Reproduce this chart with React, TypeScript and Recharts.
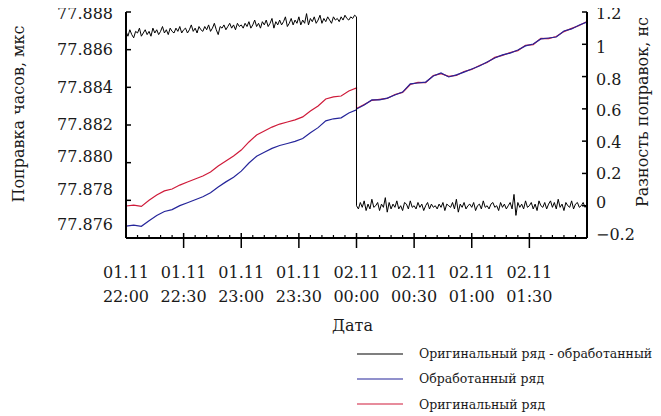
import React from 'react';
import { LineChart, Line, XAxis, YAxis, Legend, Label } from 'recharts';

// Time is in minutes since 01.11 22:00
const axisTicks = [0, 6, 12, 18, 24, 30, 36, 42, 48, 54, 60, 66, 72, 78, 84, 90, 96, 102, 108, 114, 120, 126, 132, 138, 144, 150, 156, 162, 168, 174, 180, 186, 192, 198, 204, 210, 216, 222, 228, 234, 240];
const labelMinutes = [0, 30, 60, 90, 120, 150, 180, 210];
const labelDates = ['01.11', '01.11', '01.11', '01.11', '02.11', '02.11', '02.11', '02.11'];
const labelTimes = ['22:00', '22:30', '23:00', '23:30', '00:00', '00:30', '01:00', '01:30'];

const leftTicks = [77.876, 77.878, 77.88, 77.882, 77.884, 77.886, 77.888];
const rightTicks = [-0.2, 0, 0.2, 0.4, 0.6, 0.8, 1.0, 1.2];
const rightTickLabels = ['\u22120.2', '0', '0.2', '0.4', '0.6', '0.8', '1', '1.2'];

// Original series (mks), every 4 minutes, before and after 00:00
const redBefore = [77.8777, 77.87775, 77.87768, 77.878, 77.87828, 77.8785, 77.8786, 77.87881, 77.87897, 77.87913, 77.87929, 77.8795, 77.87982, 77.88009, 77.88035, 77.88067, 77.8811, 77.88147, 77.88168, 77.88189, 77.88205, 77.88216, 77.88227, 77.88243, 77.88274, 77.88301, 77.88338, 77.88349, 77.88354, 77.88381, 77.88397];
const redAfter = [77.88287, 77.88309, 77.88331, 77.88336, 77.88341, 77.88362, 77.88373, 77.88415, 77.88426, 77.88425, 77.88462, 77.88473, 77.88458, 77.88463, 77.88484, 77.88495, 77.88516, 77.88532, 77.88559, 77.8857, 77.88585, 77.88595, 77.88623, 77.88627, 77.8866, 77.88659, 77.8867, 77.88696, 77.88713, 77.88728, 77.8875];
// Processed series (mks)
const blueBefore = [77.87663, 77.87668, 77.87662, 77.87692, 77.8772, 77.87741, 77.87751, 77.87772, 77.87787, 77.87803, 77.87819, 77.8784, 77.87871, 77.87898, 77.87923, 77.87955, 77.87998, 77.88034, 77.88055, 77.88076, 77.88091, 77.88102, 77.88113, 77.88128, 77.88159, 77.88186, 77.88222, 77.88233, 77.88238, 77.88264, 77.8828];
const blueAfter = [77.88285, 77.88306, 77.88333, 77.88333, 77.88343, 77.88359, 77.88375, 77.88418, 77.88423, 77.88428, 77.8846, 77.88476, 77.88455, 77.88466, 77.88481, 77.88497, 77.88513, 77.88535, 77.88556, 77.88572, 77.88582, 77.88598, 77.8862, 77.8863, 77.88657, 77.88662, 77.88667, 77.88699, 77.8871, 77.88731, 77.88747];

// Difference original - processed (ns), every minute
const diffBefore = [
  1.08, 1.05, 1.09, 1.06, 1.04, 1.08, 1.07, 1.10, 1.05, 1.07,
  1.09, 1.06, 1.08, 1.05, 1.10, 1.07, 1.09, 1.06, 1.08, 1.11,
  1.07, 1.09, 1.06, 1.10, 1.08, 1.07, 1.10, 1.08, 1.11, 1.07,
  1.09, 1.10, 1.07, 1.09, 1.12, 1.08, 1.10, 1.07, 1.11, 1.09,
  1.08, 1.11, 1.09, 1.12, 1.08, 1.10, 1.13, 1.09, 1.06, 1.11,
  1.10, 1.12, 1.09, 1.11, 1.13, 1.10, 1.12, 1.09, 1.13, 1.11,
  1.12, 1.10, 1.13, 1.11, 1.14, 1.10, 1.12, 1.15, 1.11, 1.13,
  1.10, 1.14, 1.12, 1.15, 1.11, 1.13, 1.16, 1.10, 1.14, 1.12,
  1.15, 1.12, 1.14, 1.17, 1.11, 1.13, 1.16, 1.12, 1.15, 1.13,
  1.17, 1.12, 1.15, 1.13, 1.19, 1.12, 1.16, 1.14, 1.17, 1.13,
  1.15, 1.18, 1.13, 1.16, 1.14, 1.17, 1.15, 1.13, 1.17, 1.15,
  1.16, 1.14, 1.17, 1.15, 1.18, 1.16, 1.15, 1.17, 1.16, 1.18, 1.17,
];
const diffAfter = [
  0.00,
  -0.02, 0.02, -0.01, 0.03, -0.03, 0.01, -0.02, 0.04, -0.01, 0.00,
  0.02, -0.03, 0.01, -0.01, 0.05, -0.04, 0.02, -0.02, 0.01, -0.01,
  0.03, -0.02, 0.00, -0.03, 0.02, 0.01, -0.02, 0.03, -0.01, 0.00,
  -0.02, 0.02, -0.01, 0.01, -0.03, 0.00, 0.02, -0.02, 0.01, -0.01,
  0.00, -0.02, 0.01, -0.01, 0.02, -0.03, 0.01, 0.00, -0.01, 0.02,
  -0.02, 0.04, -0.04, 0.01, -0.01, 0.02, -0.02, 0.00, 0.01, -0.01,
  0.02, -0.03, 0.00, 0.01, -0.02, 0.03, -0.01, 0.00, -0.02, 0.01,
  0.02, -0.01, 0.00, -0.03, 0.02, -0.01, 0.01, -0.02, 0.00, 0.02,
  -0.02, 0.07, -0.06, 0.02, -0.01, 0.01, -0.02, 0.03, -0.01, 0.00,
  0.02, -0.02, 0.01, -0.03, 0.03, 0.00, -0.01, 0.02, -0.02, 0.01,
  0.03, -0.01, 0.02, -0.02, 0.04, -0.01, 0.01, -0.03, 0.02, 0.00,
  -0.01, 0.03, -0.02, 0.01, 0.02, -0.01, 0.00, 0.02, -0.01, 0.01,
];

const seriesNames = ['Оригинальный ряд - обработанный', 'Обработанный ряд', 'Оригинальный ряд'];
const seriesColors = ['#000000', '#25259a', '#cf1b3a'];

const splitStep = 4;
const splitAt = 120;
const build = (before: number[], after: number[], step: number) => [
  ...before.map((v, i) => ({ t: i * step, v })),
  ...after.map((v, i) => ({ t: splitAt + i * step, v })),
];
const redData = build(redBefore, redAfter, splitStep);
const blueData = build(blueBefore, blueAfter, splitStep);
const diffData = build(diffBefore, diffAfter, 1);

const FONT = 'DejaVu Serif';
const TEXT = '#1a1a1a';

// small vertical label nudges (style), matching the typeset original
const leftLabelNudge = [-14, -11, -6, -1, 0, 0, 1];
const rightLabelNudge = [-4, -3, 0, 1, 1, 3, 3, 1];

const BottomTick = (props: any) => {
  const { x, y, payload } = props;
  const v = payload.value;
  const idx = labelMinutes.indexOf(v);
  const isMajor = v % 30 === 0 && v !== 0 && v !== 240;
  return (
    <g>
      {isMajor ? (
        <line x1={x} x2={x} y1={y - 5} y2={y + 10} stroke="#000" strokeWidth={1.5} />
      ) : (
        <line x1={x} x2={x} y1={y - 3} y2={y} stroke="#000" strokeWidth={1.2} />
      )}
      {idx >= 0 && (
        <text x={x} y={y + 40} textAnchor="middle" fontSize={16} fontFamily={FONT} fill={TEXT}>
          {labelDates[idx]}
        </text>
      )}
      {idx >= 0 && (
        <text x={x} y={y + 64} textAnchor="middle" fontSize={16} fontFamily={FONT} fill={TEXT}>
          {labelTimes[idx]}
        </text>
      )}
    </g>
  );
};

const TopTick = (props: any) => {
  const { x, y } = props;
  return <line x1={x} x2={x} y1={y} y2={y + 3} stroke="#000" strokeWidth={1.2} />;
};

const LeftTick = (props: any) => {
  const { x, y, payload } = props;
  const idx = leftTicks.findIndex((t) => Math.abs(t - payload.value) < 1e-9);
  const nudge = idx >= 0 ? leftLabelNudge[idx] : 0;
  return (
    <g>
      <line x1={x} x2={x + 5} y1={y} y2={y} stroke="#000" strokeWidth={1.5} />
      <text x={x - 13} y={y + nudge} dy="0.36em" textAnchor="end" fontSize={16} fontFamily={FONT} fill={TEXT}>
        {Number(payload.value).toFixed(3)}
      </text>
    </g>
  );
};

const MirrorTick = (props: any) => {
  const { x, y } = props;
  return <line x1={x} x2={x - 5} y1={y} y2={y} stroke="#000" strokeWidth={1.5} />;
};

const RightTick = (props: any) => {
  const { x, y, payload } = props;
  const idx = rightTicks.findIndex((t) => Math.abs(t - payload.value) < 1e-9);
  const nudge = idx >= 0 ? rightLabelNudge[idx] : 0;
  return (
    <g>
      <line x1={x} x2={x - 5} y1={y} y2={y} stroke="#000" strokeWidth={1.5} />
      <text x={x + 9} y={y + nudge} dy="0.36em" textAnchor="start" fontSize={16} fontFamily={FONT} fill={TEXT}>
        {idx >= 0 ? rightTickLabels[idx] : ''}
      </text>
    </g>
  );
};

const LeftTitle = (props: any) => {
  const vb = props.viewBox || { x: 0, y: 12, width: 126, height: 226 };
  const cx = vb.x + 18;
  const cy = vb.y + vb.height / 2 - 11;
  return (
    <text x={cx} y={cy} transform={`rotate(-90 ${cx} ${cy})`} textAnchor="middle" dominantBaseline="central" fontSize={16} fontFamily={FONT} fill={TEXT}>
      Поправка часов, мкс
    </text>
  );
};

const RightTitle = (props: any) => {
  const vb = props.viewBox || { x: 587, y: 12, width: 74, height: 226 };
  const cx = vb.x + 55;
  const cy = vb.y + vb.height / 2 - 13;
  return (
    <text x={cx} y={cy} transform={`rotate(-90 ${cx} ${cy})`} textAnchor="middle" dominantBaseline="central" fontSize={16} fontFamily={FONT} fill={TEXT}>
      Разность поправок, нс
    </text>
  );
};

const BottomTitle = (props: any) => {
  const vb = props.viewBox || { x: 126, y: 238, width: 461, height: 178 };
  return (
    <text x={vb.x + vb.width / 2 - 4} y={vb.y + 93} textAnchor="middle" fontSize={16} fontFamily={FONT} fill={TEXT}>
      Дата
    </text>
  );
};

const LegendBox = () => (
  <div style={{ fontFamily: FONT, fontSize: 12.5, color: TEXT }}>
    {seriesNames.map((name, i) => (
      <div key={name} style={{ display: 'flex', alignItems: 'center', height: 25.3, whiteSpace: 'nowrap' }}>
        <svg width={64} height={4} style={{ display: 'block' }}>
          <line x1={2} x2={48} y1={2} y2={2} stroke={seriesColors[i]} strokeWidth={1.2} />
        </svg>
        <span>{name}</span>
      </div>
    ))}
  </div>
);

export default function App() {
  return (
    <div style={{ margin: '-8px 0 0 -8px', width: 661, height: 416, background: '#fff' }}>
      <LineChart width={661} height={416} margin={{ top: 12, right: 0, bottom: 0, left: 0 }}>
        <XAxis
          xAxisId="b"
          type="number"
          dataKey="t"
          domain={[0, 240]}
          ticks={axisTicks}
          interval={0}
          height={178}
          tickSize={0}
          tickMargin={0}
          tickLine={false}
          axisLine={{ stroke: '#000', strokeWidth: 2 }}
          tick={BottomTick}
          allowDataOverflow
        >
          <Label content={BottomTitle} />
        </XAxis>
        <XAxis
          xAxisId="t"
          orientation="top"
          type="number"
          dataKey="t"
          domain={[0, 240]}
          ticks={axisTicks}
          interval={0}
          height={0}
          tickSize={0}
          tickMargin={0}
          tickLine={false}
          axisLine={{ stroke: '#000', strokeWidth: 2 }}
          tick={TopTick}
          allowDataOverflow
        />
        <YAxis
          yAxisId="L"
          type="number"
          domain={[77.876, 77.888]}
          ticks={leftTicks}
          interval={0}
          width={126}
          tickSize={0}
          tickMargin={0}
          tickLine={false}
          axisLine={{ stroke: '#000', strokeWidth: 2 }}
          tick={LeftTick}
          allowDataOverflow
        >
          <Label content={LeftTitle} />
        </YAxis>
        <YAxis
          yAxisId="LM"
          orientation="right"
          type="number"
          domain={[77.876, 77.888]}
          ticks={leftTicks}
          interval={0}
          width={0}
          tickSize={0}
          tickMargin={0}
          tickLine={false}
          axisLine={false}
          tick={MirrorTick}
          allowDataOverflow
        />
        <YAxis
          yAxisId="R"
          orientation="right"
          type="number"
          domain={[-0.2, 1.2]}
          ticks={rightTicks}
          interval={0}
          width={74}
          tickSize={0}
          tickMargin={0}
          tickLine={false}
          axisLine={{ stroke: '#000', strokeWidth: 2 }}
          tick={RightTick}
          allowDataOverflow
        >
          <Label content={RightTitle} />
        </YAxis>
        <Legend
          layout="horizontal"
          verticalAlign="middle"
          align="center"
          wrapperStyle={{ left: 355, top: 341, width: 306 }}
          content={LegendBox}
        />
        <Line
          xAxisId="b"
          yAxisId="L"
          data={redData}
          dataKey="v"
          type="linear"
          stroke={seriesColors[2]}
          strokeWidth={1.2}
          dot={false}
          isAnimationActive={false}
          name={seriesNames[2]}
        />
        <Line
          xAxisId="b"
          yAxisId="L"
          data={blueData}
          dataKey="v"
          type="linear"
          stroke={seriesColors[1]}
          strokeWidth={1.2}
          dot={false}
          isAnimationActive={false}
          name={seriesNames[1]}
        />
        <Line
          xAxisId="b"
          yAxisId="R"
          data={diffData}
          dataKey="v"
          type="linear"
          stroke={seriesColors[0]}
          strokeWidth={1}
          dot={false}
          isAnimationActive={false}
          name={seriesNames[0]}
        />
      </LineChart>
    </div>
  );
}
